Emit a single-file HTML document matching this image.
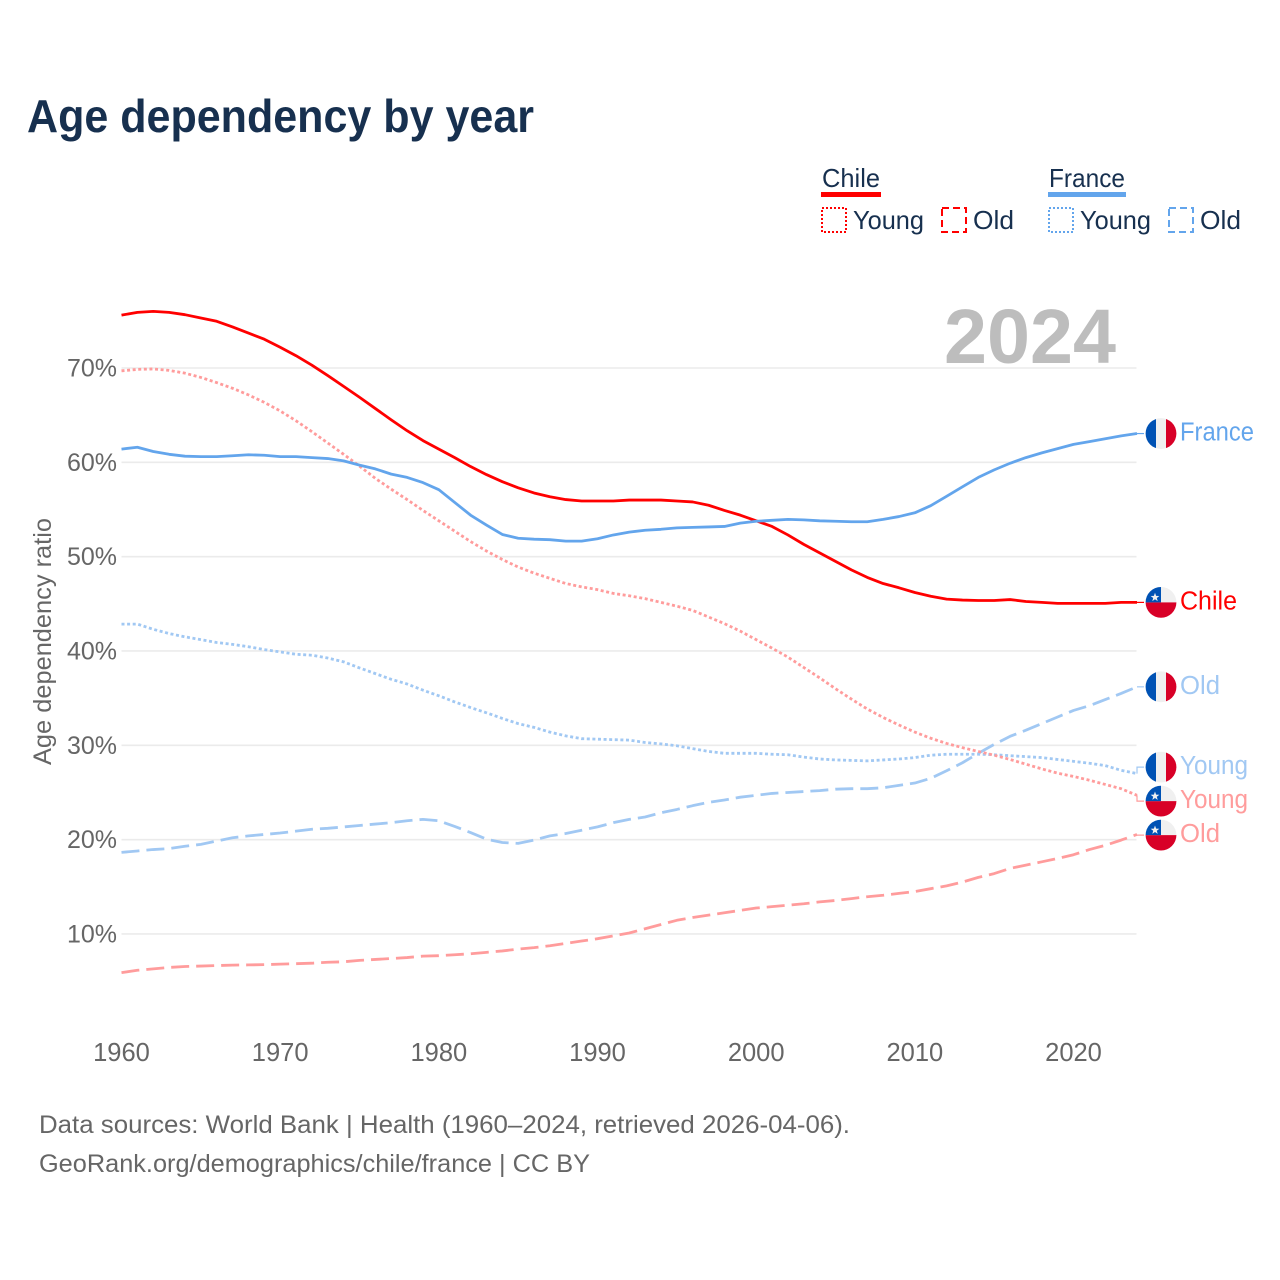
<!DOCTYPE html>
<html lang="en">
<head>
<meta charset="utf-8">
<title>Age dependency by year</title>
<style>
html,body{margin:0;padding:0;background:#fff;}
svg{display:block;font-family:"Liberation Sans",sans-serif;}
</style>
</head>
<body>
<svg id="chart" xmlns="http://www.w3.org/2000/svg" width="1280" height="1280" viewBox="0 0 1280 1280">
  <rect width="1280" height="1280" fill="#ffffff"/>
  <text x="27" y="132" font-size="46" font-weight="700" fill="#17304f" textLength="507" lengthAdjust="spacingAndGlyphs">Age dependency by year</text>

  <g font-size="26" fill="#17304f">
    <g>
      <text x="822" y="187" textLength="58" lengthAdjust="spacingAndGlyphs">Chile</text>
      <rect x="821" y="192" width="60" height="5" fill="#ff0000"/>
      <rect x="822" y="208" width="24" height="24" fill="none" stroke="#ff0000" stroke-width="2" stroke-dasharray="2 2"/>
      <text x="853" y="229" textLength="71" lengthAdjust="spacingAndGlyphs">Young</text>
      <rect x="942" y="208" width="24" height="24" fill="none" stroke="#ff0000" stroke-width="2" stroke-dasharray="7 4"/>
      <text x="973" y="229" textLength="41" lengthAdjust="spacingAndGlyphs">Old</text>
    </g>
    <g>
      <text x="1049" y="187" textLength="76" lengthAdjust="spacingAndGlyphs">France</text>
      <rect x="1048" y="192" width="78" height="5" fill="#63a5ec"/>
      <rect x="1049" y="208" width="24" height="24" fill="none" stroke="#63a5ec" stroke-width="2" stroke-dasharray="2 2"/>
      <text x="1080" y="229" textLength="71" lengthAdjust="spacingAndGlyphs">Young</text>
      <rect x="1169" y="208" width="24" height="24" fill="none" stroke="#63a5ec" stroke-width="2" stroke-dasharray="7 4"/>
      <text x="1200" y="229" textLength="41" lengthAdjust="spacingAndGlyphs">Old</text>
    </g>
  </g>

  <g id="grid"></g>
  <text x="944" y="363" font-size="77" font-weight="700" fill="#bdbdbd" textLength="172" lengthAdjust="spacingAndGlyphs">2024</text>
  <g id="y-axis"></g>
  <g id="x-axis"></g>
  <text transform="translate(51,765) rotate(-90)" font-size="25" fill="#666666" textLength="247" lengthAdjust="spacingAndGlyphs">Age dependency ratio</text>
  <g id="series"></g>
  <g id="end-labels"></g>

  <text x="39" y="1133" font-size="25" fill="#666666" textLength="811" lengthAdjust="spacingAndGlyphs">Data sources: World Bank | Health (1960–2024, retrieved 2026-04-06).</text>
  <text x="39" y="1172" font-size="25" fill="#666666" textLength="551" lengthAdjust="spacingAndGlyphs">GeoRank.org/demographics/chile/france | CC BY</text>
</svg>

<script>
const firstYear = 1960;
const xTicks = [1960, 1970, 1980, 1990, 2000, 2010, 2020];
const yTicks = [10, 20, 30, 40, 50, 60, 70];

const chileTotal = [75.6,75.9,76.0,75.9,75.65,75.3,74.95,74.35,73.7,73.05,
  72.2,71.3,70.3,69.2,68.05,66.9,65.7,64.5,63.35,62.3,
  61.4,60.5,59.55,58.7,57.95,57.3,56.75,56.35,56.05,55.9,
  55.9,55.9,56.0,56.0,56.0,55.9,55.8,55.45,54.9,54.4,
  53.8,53.2,52.3,51.3,50.4,49.5,48.6,47.8,47.15,46.7,
  46.2,45.8,45.5,45.4,45.35,45.35,45.45,45.25,45.15,45.05,
  45.05,45.05,45.05,45.15,45.15];

const franceTotal = [61.4,61.6,61.15,60.85,60.65,60.6,60.6,60.7,60.8,60.75,
  60.6,60.6,60.5,60.4,60.15,59.7,59.3,58.75,58.4,57.85,
  57.1,55.75,54.4,53.35,52.35,51.95,51.85,51.8,51.65,51.65,
  51.9,52.3,52.6,52.8,52.9,53.05,53.1,53.15,53.2,53.55,
  53.75,53.85,53.95,53.9,53.8,53.75,53.7,53.7,53.95,54.25,
  54.65,55.4,56.4,57.4,58.4,59.2,59.9,60.5,61.0,61.45,
  61.9,62.2,62.5,62.8,63.05];

const chileYoung = [69.7,69.85,69.9,69.75,69.45,69.0,68.45,67.85,67.15,66.35,
  65.45,64.4,63.25,62.05,60.85,59.6,58.3,57.15,56.05,54.9,
  53.8,52.7,51.6,50.6,49.7,48.9,48.25,47.7,47.15,46.8,
  46.5,46.1,45.85,45.55,45.15,44.75,44.3,43.6,42.9,42.1,
  41.2,40.3,39.35,38.25,37.15,36.0,34.9,33.85,32.95,32.15,
  31.4,30.75,30.2,29.75,29.35,28.95,28.5,28.0,27.5,27.05,
  26.7,26.3,25.85,25.4,24.7];

const chileOld = [5.9,6.15,6.3,6.45,6.55,6.6,6.65,6.7,6.72,6.75,
  6.8,6.85,6.9,7.0,7.05,7.2,7.3,7.4,7.5,7.65,
  7.7,7.8,7.9,8.05,8.2,8.4,8.55,8.75,9.0,9.25,
  9.5,9.8,10.1,10.55,11.0,11.45,11.75,12.0,12.25,12.5,
  12.75,12.9,13.05,13.2,13.4,13.55,13.75,13.95,14.1,14.3,
  14.5,14.8,15.1,15.5,16.0,16.4,16.95,17.3,17.65,18.0,
  18.4,18.95,19.4,19.95,20.55];

const franceYoung = [42.85,42.85,42.3,41.85,41.5,41.2,40.9,40.7,40.45,40.15,
  39.9,39.65,39.55,39.25,38.85,38.2,37.6,37.0,36.5,35.85,
  35.25,34.6,34.0,33.45,32.85,32.3,31.9,31.4,31.0,30.7,
  30.65,30.6,30.55,30.3,30.15,29.95,29.65,29.35,29.15,29.15,
  29.15,29.05,29.0,28.75,28.55,28.45,28.4,28.35,28.45,28.55,
  28.7,28.95,29.05,29.05,29.05,29.0,28.9,28.8,28.7,28.5,
  28.3,28.1,27.85,27.35,27.0];

const franceOld = [18.65,18.8,18.95,19.05,19.3,19.5,19.85,20.2,20.4,20.55,
  20.7,20.9,21.1,21.2,21.35,21.5,21.65,21.8,22.0,22.15,
  22.0,21.4,20.75,20.05,19.7,19.6,19.95,20.4,20.65,21.0,
  21.35,21.8,22.15,22.4,22.85,23.2,23.6,23.95,24.2,24.5,
  24.7,24.9,25.0,25.1,25.2,25.35,25.4,25.4,25.5,25.75,
  26.0,26.5,27.3,28.15,29.15,30.1,30.95,31.6,32.3,33.0,
  33.7,34.2,34.85,35.5,36.2];

const NS = 'http://www.w3.org/2000/svg';
const xScale = function (year) { return 121.5 + 15.867 * (year - firstYear); };
const yScale = function (value) { return 1028.3 - 9.433 * value; };
const labelWidths = { France: 74, Chile: 57, Old: 40, Young: 68 };
const dotted = '3 2.6';
const dashed = '18 7';

function make(tag, attrs, parent) {
  const el = document.createElementNS(NS, tag);
  Object.keys(attrs).forEach(function (k) { el.setAttribute(k, attrs[k]); });
  parent.appendChild(el);
  return el;
}

const gridLayer = document.getElementById('grid');
const yAxisLayer = document.getElementById('y-axis');
const xAxisLayer = document.getElementById('x-axis');
const seriesLayer = document.getElementById('series');
const labelLayer = document.getElementById('end-labels');

yTicks.forEach(function (t) {
  const line = make('line', { x1: 121.5, x2: 1136.5, y1: yScale(t), y2: yScale(t), stroke: '#ebebeb', 'stroke-width': 1.6 }, gridLayer);
  
  
  const label = make('text', { x: 117, y: yScale(t) + 8.5, 'text-anchor': 'end', 'font-size': 25, fill: '#666666' }, yAxisLayer);
  label.textContent = t + '%';
  
  
});

xTicks.forEach(function (t) {
  const label = make('text', { x: xScale(t), y: 1061, 'text-anchor': 'middle', 'font-size': 25.5, fill: '#666666' }, xAxisLayer);
  label.textContent = String(t);
  
  
});

const seriesList = [
  { id: 'france-old', values: franceOld, color: '#a1c8f3', dash: dashed, width: 2.8, label: 'Old', flag: 'france' },
  { id: 'chile-old', values: chileOld, color: '#ff9c9c', dash: dashed, width: 2.8, label: 'Old', flag: 'chile' },
  { id: 'france-young', values: franceYoung, color: '#a1c8f3', dash: dotted, width: 2.8, label: 'Young', flag: 'france' },
  { id: 'chile-young', values: chileYoung, color: '#ff9c9c', dash: dotted, width: 2.8, label: 'Young', flag: 'chile' },
  { id: 'chile-total', values: chileTotal, color: '#ff0000', dash: null, width: 2.8, label: 'Chile', flag: 'chile' },
  { id: 'france-total', values: franceTotal, color: '#63a5ec', dash: null, width: 2.8, label: 'France', flag: 'france' }
];

seriesList.forEach(function (s) {
  const pts = s.values.map(function (v, i) {
    return xScale(firstYear + i).toFixed(2) + ',' + yScale(v).toFixed(2);
  }).join(' ');
  const attrs = { points: pts, fill: 'none', stroke: s.color, 'stroke-width': s.width, 'stroke-linejoin': 'round' };
  if (s.dash) { attrs['stroke-dasharray'] = s.dash; }
  const line = make('polyline', attrs, seriesLayer);
  
  
});

/* Spread end labels so they keep a minimum gap, cluster by cluster. */
const minGap = 34;
const ends = seriesList.map(function (s) {
  return { s: s, endY: yScale(s.values[s.values.length - 1]) };
}).sort(function (a, b) { return a.endY - b.endY; });
const clusters = ends.map(function (e) { return { items: [e], mean: e.endY }; });
function clusterTop(c) { return c.mean - (c.items.length - 1) * minGap / 2; }
function clusterBottom(c) { return c.mean + (c.items.length - 1) * minGap / 2; }
let didMerge = true;
while (didMerge) {
  didMerge = false;
  for (let i = 0; i < clusters.length - 1; i++) {
    if (clusterTop(clusters[i + 1]) - clusterBottom(clusters[i]) < minGap) {
      const items = clusters[i].items.concat(clusters[i + 1].items);
      const mean = items.reduce(function (sum, e) { return sum + e.endY; }, 0) / items.length;
      clusters.splice(i, 2, { items: items, mean: mean });
      didMerge = true;
      break;
    }
  }
}
clusters.forEach(function (c) {
  c.items.forEach(function (e, i) { e.labelY = clusterTop(c) + i * minGap; });
});

function drawFlag(group, kind, cy) {
  const cx = 1161;
  const r = 15.4;
  const id = 'clip-' + kind + '-' + Math.round(cy);
  const clip = make('clipPath', { id: id }, group);
  make('circle', { cx: cx, cy: cy, r: r }, clip);
  const g = make('g', { 'clip-path': 'url(#' + id + ')' }, group);
  if (kind === 'france') {
    make('rect', { x: cx - 16, y: cy - 16, width: 11, height: 32, fill: '#0052b4' }, g);
    make('rect', { x: cx - 5, y: cy - 16, width: 10, height: 32, fill: '#f0f0f0' }, g);
    make('rect', { x: cx + 5, y: cy - 16, width: 11, height: 32, fill: '#d80027' }, g);
  } else {
    make('rect', { x: cx - 16, y: cy - 16, width: 32, height: 16, fill: '#f0f0f0' }, g);
    make('rect', { x: cx - 16, y: cy, width: 32, height: 16, fill: '#d80027' }, g);
    make('rect', { x: cx - 16, y: cy - 16, width: 16, height: 16, fill: '#0052b4' }, g);
    const star = [];
    for (let i = 0; i < 10; i++) {
      const rad = i % 2 === 0 ? 4.6 : 1.9;
      const ang = -Math.PI / 2 + i * Math.PI / 5;
      star.push((cx - 6 + rad * Math.cos(ang)).toFixed(2) + ',' + (cy - 5 + rad * Math.sin(ang)).toFixed(2));
    }
    make('polygon', { points: star.join(' '), fill: '#f0f0f0' }, g);
  }
}

ends.forEach(function (e) {
  const s = e.s;
  const group = make('g', {}, labelLayer);
  
  
  const connector = make('polyline', {
    points: '1137,' + e.endY.toFixed(2) + ' 1137,' + e.labelY.toFixed(2) + ' 1144,' + e.labelY.toFixed(2),
    fill: 'none', stroke: s.color, 'stroke-width': 1.2
  }, group);
  
  
  const flag = make('g', {}, group);
  
  
  drawFlag(flag, s.flag, e.labelY);
  const text = make('text', {
    x: 1180, y: e.labelY + 7, 'font-size': 25.5, fill: s.color,
    textLength: labelWidths[s.label], lengthAdjust: 'spacingAndGlyphs'
  }, group);
  text.textContent = s.label;
  
  
});
</script>
</body>
</html>
